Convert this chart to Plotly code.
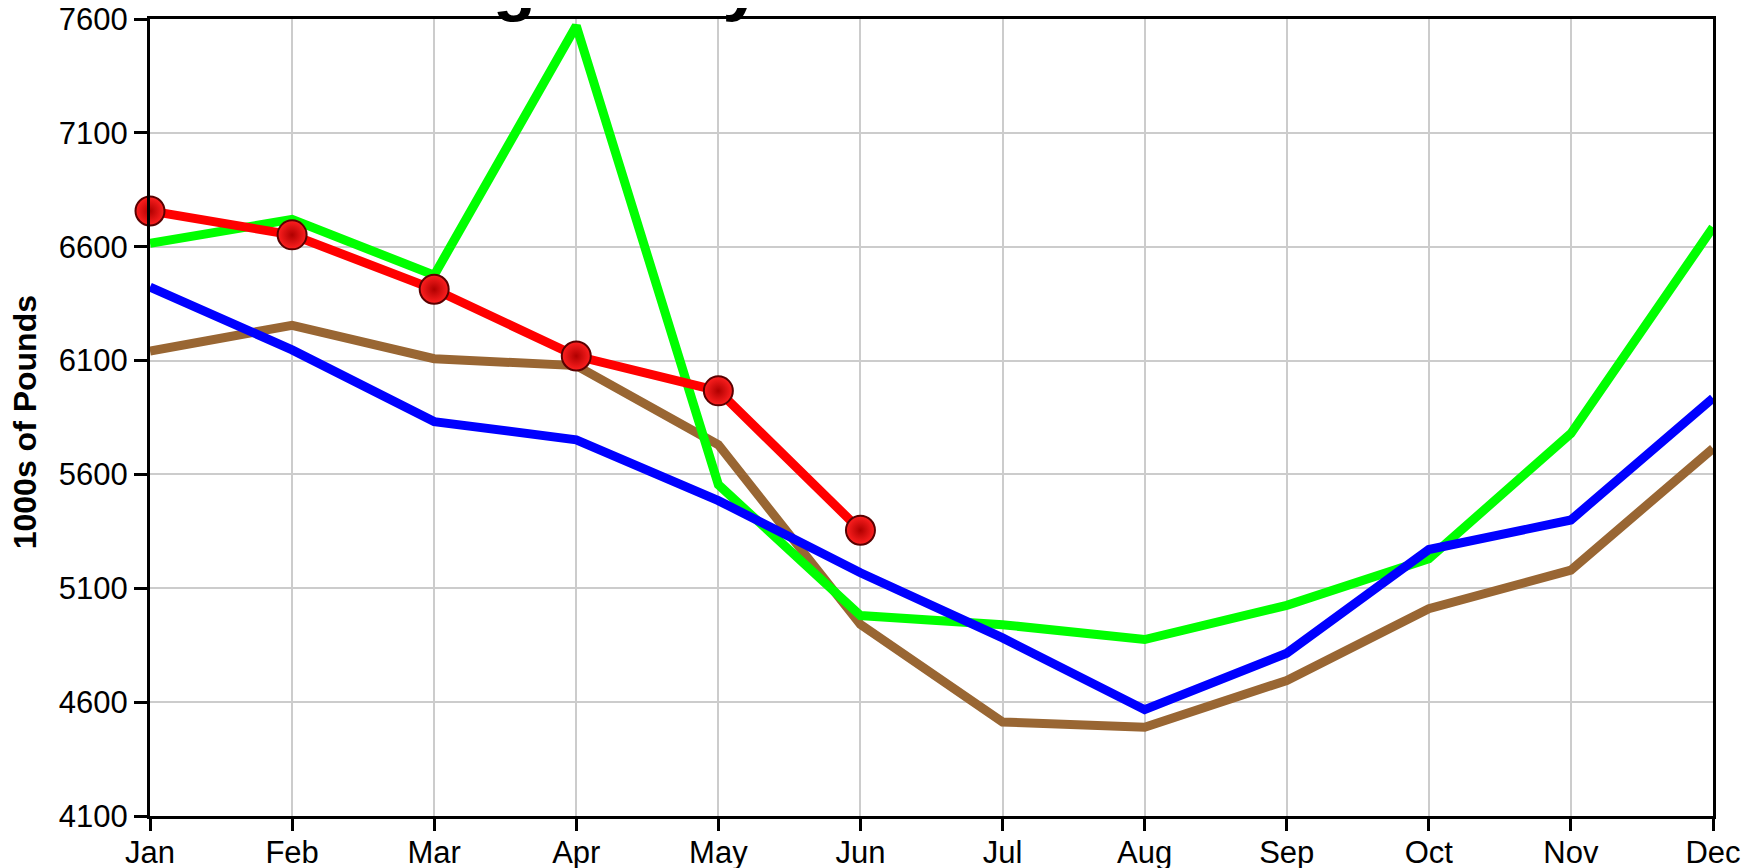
import plotly.graph_objects as go

# Monthly average daily butter production (1000s of pounds)
months = ['Jan', 'Feb', 'Mar', 'Apr', 'May', 'Jun',
          'Jul', 'Aug', 'Sep', 'Oct', 'Nov', 'Dec']
series_brown = [6142, 6255, 6108, 6078, 5730, 4941, 4513, 4490, 4695, 5010, 5180, 5714]
series_blue = [6423, 6147, 5832, 5752, 5485, 5168, 4882, 4567, 4815, 5270, 5400, 5935]
series_green = [6615, 6720, 6475, 7570, 5555, 4980, 4940, 4875, 5025, 5230, 5780, 6685]
series_red = [6757, 6652, 6413, 6120, 5967, 5355]   # only first half of the year
y_ticks = [4100, 4600, 5100, 5600, 6100, 6600, 7100, 7600]

fig = go.Figure()

# background lines first, red with markers on top
line_sets = [
    ('Series 1', series_brown, '#996633'),
    ('Series 2', series_green, '#00FF00'),
    ('Series 3', series_blue, '#0000FF'),
]
for name, vals, col in line_sets:
    fig.add_trace(go.Scatter(x=months[:len(vals)], y=vals, name=name, mode='lines',
                             line=dict(color=col, width=9)))

fig.add_trace(go.Scatter(
    x=months[:len(series_red)], y=series_red, name='Series 4', mode='lines+markers',
    line=dict(color='#FF0000', width=9),
    marker=dict(size=29, color='#FF2020', line=dict(color='#5A0000', width=2),
                gradient=dict(type='radial', color='#B00000')),
    cliponaxis=False))

# margins allow for the 8px page offset of the html body
fig.update_layout(
    width=1757, height=868,
    margin=dict(l=142, r=52, t=11, b=60, autoexpand=False),
    paper_bgcolor='white', plot_bgcolor='white',
    showlegend=False,
    font=dict(family='Arial, Liberation Sans', size=31, color='black'),
)

fig.update_xaxes(
    type='category', categoryorder='array', categoryarray=months,
    range=[0, 11], automargin=False,
    showgrid=True, gridcolor='#CCCCCC', gridwidth=2,
    showline=True, linecolor='black', linewidth=3, mirror=True,
    ticks='outside', ticklen=12, tickwidth=3, tickcolor='black',
    ticklabelstandoff=-5, ticklabeloverflow='allow',
    zeroline=False)

fig.update_yaxes(
    range=[4100, 7600], tickvals=y_ticks, automargin=False,
    showgrid=True, gridcolor='#CCCCCC', gridwidth=2,
    showline=True, linecolor='black', linewidth=3, mirror=True,
    ticks='outside', ticklen=13, tickwidth=3, tickcolor='black',
    ticklabeloverflow='allow',
    zeroline=False)

# title sits mostly above the top edge, as in the original
fig.add_annotation(
    text='<b>Average Daily Production of Butter</b>',
    xref='paper', yref='paper', x=0.468, y=1,
    xanchor='center', yanchor='bottom', yshift=-5,
    showarrow=False, font=dict(size=70, color='black'))

# rotated axis label placed as an annotation to pin its position
fig.add_annotation(
    text='<b>1000s of Pounds</b>', textangle=-90,
    xref='paper', yref='paper', x=0, y=0.494,
    xshift=-125, xanchor='center', yanchor='middle',
    showarrow=False, font=dict(size=32, color='black'))

fig.write_html('out.html')
